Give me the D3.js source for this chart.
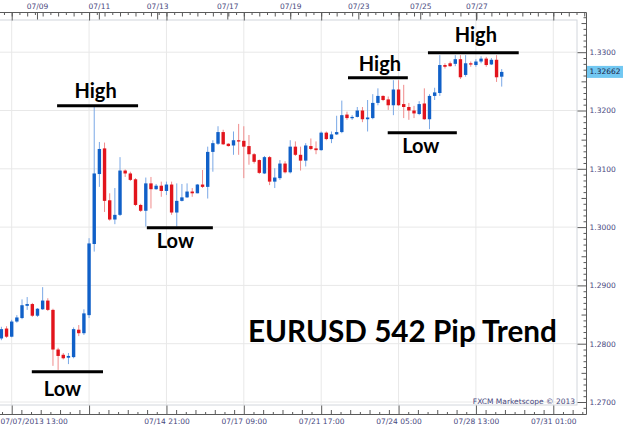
<!DOCTYPE html>
<html><head><meta charset="utf-8">
<script src="https://cdn.jsdelivr.net/npm/d3@7/dist/d3.min.js"></script>
<style>body{margin:0;background:#fff}svg{display:block}</style>
</head><body><svg id="c" width="624" height="428"></svg>
<script>
// ---- data ----
const candleIdx = d3.range(-2, 96);
const opens = [1.2809,1.2826,1.2812,1.2838,1.2844,1.2865,1.2868,1.2848,1.2859,1.2874,
 1.2858,1.2790,1.2781,1.2776,1.2777,1.2824,1.2818,1.2849,1.2971,1.3091,
 1.3135,1.3046,1.3013,1.3021,1.3097,1.3092,1.3082,1.3038,1.3028,1.3075,
 1.3065,1.3071,1.3062,1.3073,1.3025,1.3045,1.3051,1.3061,1.3058,1.3073,
 1.3069,1.3129,1.3143,1.3163,1.3143,1.3140,1.3149,1.3148,1.3139,1.3125,
 1.3115,1.3092,1.3120,1.3078,1.3084,1.3109,1.3094,1.3138,1.3124,1.3114,
 1.3139,1.3135,1.3132,1.3162,1.3151,1.3159,1.3163,1.3193,1.3187,1.3189,
 1.3200,1.3185,1.3187,1.3213,1.3225,1.3219,1.3209,1.3236,1.3211,1.3206,
 1.3200,1.3194,1.3212,1.3185,1.3225,1.3230,1.3278,1.3281,1.3280,1.3288,
 1.3261,1.3281,1.3278,1.3284,1.3289,1.3279,1.3287,1.3258];
const highs = [1.2829,1.2830,1.2841,1.2849,1.2876,1.2880,1.2870,1.2861,1.2897,1.2878,
 1.2860,1.2793,1.2784,1.2784,1.2828,1.2832,1.2859,1.2981,1.3207,1.3146,
 1.3145,1.3058,1.3067,1.3120,1.3099,1.3095,1.3084,1.3040,1.3085,1.3086,
 1.3074,1.3078,1.3078,1.3078,1.3075,1.3074,1.3075,1.3067,1.3074,1.3098,
 1.3138,1.3149,1.3173,1.3167,1.3144,1.3164,1.3177,1.3173,1.3158,1.3127,
 1.3116,1.3122,1.3122,1.3101,1.3115,1.3113,1.3149,1.3147,1.3138,1.3144,
 1.3152,1.3147,1.3164,1.3164,1.3164,1.3191,1.3217,1.3198,1.3192,1.3206,
 1.3206,1.3218,1.3228,1.3238,1.3226,1.3224,1.3252,1.3252,1.3244,1.3213,
 1.3208,1.3216,1.3238,1.3228,1.3239,1.3295,1.3281,1.3284,1.3295,1.3295,
 1.3295,1.3284,1.3288,1.3293,1.3292,1.3290,1.3295,1.3271];
const lows = [1.2806,1.2810,1.2811,1.2836,1.2842,1.2858,1.2846,1.2846,1.2858,1.2856,
 1.2762,1.2755,1.2773,1.2765,1.2775,1.2813,1.2815,1.2844,1.2958,1.3069,
 1.3026,1.3011,1.3005,1.3019,1.3086,1.3079,1.3036,1.3026,1.3001,1.3032,
 1.3064,1.3052,1.3055,1.3021,1.3001,1.3044,1.3050,1.3052,1.3058,1.3067,
 1.3049,1.3095,1.3141,1.3141,1.3138,1.3124,1.3124,1.3084,1.3107,1.3109,
 1.3091,1.3091,1.3072,1.3067,1.3081,1.3092,1.3092,1.3122,1.3097,1.3104,
 1.3132,1.3125,1.3131,1.3149,1.3144,1.3158,1.3161,1.3184,1.3184,1.3188,
 1.3180,1.3164,1.3185,1.3209,1.3216,1.3201,1.3192,1.3208,1.3187,1.3184,
 1.3187,1.3192,1.3184,1.3168,1.3218,1.3225,1.3272,1.3275,1.3276,1.3254,
 1.3258,1.3275,1.3275,1.3281,1.3275,1.3278,1.3249,1.3241];
const closes = [1.2825,1.2812,1.2838,1.2845,1.2866,1.2868,1.2848,1.2860,1.2874,1.2858,
 1.2790,1.2779,1.2775,1.2779,1.2825,1.2818,1.2852,1.2972,1.3092,1.3134,
 1.3045,1.3013,1.3021,1.3097,1.3092,1.3081,1.3038,1.3028,1.3075,1.3065,
 1.3071,1.3062,1.3073,1.3025,1.3045,1.3051,1.3061,1.3058,1.3073,1.3069,
 1.3129,1.3144,1.3163,1.3142,1.3139,1.3149,1.3147,1.3138,1.3125,1.3112,
 1.3093,1.3120,1.3078,1.3085,1.3109,1.3094,1.3138,1.3124,1.3114,1.3140,
 1.3134,1.3132,1.3162,1.3151,1.3159,1.3163,1.3192,1.3187,1.3189,1.3200,
 1.3185,1.3188,1.3213,1.3225,1.3218,1.3209,1.3236,1.3209,1.3206,1.3200,
 1.3195,1.3211,1.3185,1.3225,1.3231,1.3278,1.3275,1.3276,1.3288,1.3257,
 1.3281,1.3279,1.3284,1.3289,1.3278,1.3287,1.3257,1.32662];

const bottomTickIdx = [0, 15, 30, 45, 60, 75, 90, 105];
const bottomTickLabels = ["07/07/2013 13:00", "", "07/14 21:00", "07/17 09:00", "07/21 17:00", "07/24 05:00", "07/28 13:00", "07/31 01:00"];
const topTickIdx = [4.9, 16.9, 28.2, 41.8, 54, 67.2, 79.2, 90.1];
const topTickLabels = ["07/09", "07/11", "07/13", "07/17", "07/19", "07/23", "07/25", "07/27"];
const priceTicks = [1.27, 1.28, 1.29, 1.30, 1.31, 1.32, 1.33];
const priceTickLabels = ["1.2700", "1.2800", "1.2900", "1.3000", "1.3100", "1.3200", "1.3300"];
const lastPrice = 1.32662;
const lastPriceLabel = "1.32662";
const levelTexts = ["High", "Low", "Low", "High", "Low", "High"];
const levelFrom = [8.8, 3.9, 26.2, 65.2, 72.9, 80.7];
const levelTo = [24.5, 17.7, 39.0, 76.8, 86.3, 98.3];
const levelPrice = [1.3208, 1.2752, 1.2999, 1.3256, 1.3162, 1.3299];
const titleText = "EURUSD 542 Pip Trend";
const creditText = "FXCM Marketscope \u00A9 2013";

// ---- layout ----
const W = 624, H = 428;
const plot = {l: 0, t: 20, r: 577, b: 405};
const axisX = 586, axisTopY = 12, axisBotY = 414;
const labelOffsets = [{dx:-2, dy:-8}, {dx:-5, dy:24.5}, {dx:-4.5, dy:20}, {dx:2, dy:-7}, {dx:-1.5, dy:20}, {dx:2.5, dy:-11}];
const axisColor = "#5a5a5a", textColor = "#48487e", gridColor = "#e8e8e8";
const axisFont = "'DejaVu Sans', Verdana, sans-serif";
const boldFont = "Lato, 'Open Sans', sans-serif";

const svg = d3.select("#c");
svg.append("rect").attr("width", W).attr("height", H).attr("fill", "#fff");

const x = d3.scaleLinear().domain([0, 105]).range([11.7, 11.7 + 105 * 5.158]);
const y = d3.scaleLinear().domain([1.27, 1.33]).range([402, 52.2]);

const candles = candleIdx.map((i, k) => ({i, o: opens[k], h: highs[k], l: lows[k], c: closes[k]}));

svg.append("clipPath").attr("id", "clip").append("rect")
  .attr("x", plot.l).attr("y", plot.t).attr("width", plot.r - plot.l).attr("height", plot.b - plot.t);

// grid
const grid = svg.append("g").attr("clip-path", "url(#clip)");
grid.selectAll("line.v").data(bottomTickIdx).join("line")
  .attr("x1", d => x(d)).attr("x2", d => x(d)).attr("y1", plot.t).attr("y2", plot.b)
  .attr("stroke", gridColor).attr("stroke-width", 1);
grid.selectAll("line.h").data(priceTicks).join("line")
  .attr("x1", plot.l).attr("x2", plot.r).attr("y1", d => y(d)).attr("y2", d => y(d))
  .attr("stroke", gridColor).attr("stroke-width", 1);

// plot border
svg.append("rect").attr("x", plot.l - 1).attr("y", plot.t).attr("width", plot.r - plot.l + 1).attr("height", plot.b - plot.t)
  .attr("fill", "none").attr("stroke", "#d2d6dc").attr("stroke-width", 1);

// candles
const cg = svg.append("g").attr("clip-path", "url(#clip)");
const bw = 3.4;
cg.selectAll("line.wick").data(candles).join("line")
  .attr("x1", d => x(d.i)).attr("x2", d => x(d.i))
  .attr("y1", d => y(d.h)).attr("y2", d => y(d.l))
  .attr("stroke", d => d.c >= d.o ? "#7aa8e6" : "#f08c8c").attr("stroke-width", 1);
cg.selectAll("rect.body").data(candles).join("rect")
  .attr("x", d => x(d.i) - bw / 2).attr("width", bw)
  .attr("y", d => y(Math.max(d.o, d.c)))
  .attr("height", d => Math.max(1.3, Math.abs(y(d.o) - y(d.c))))
  .attr("fill", d => d.c >= d.o ? "#1060c8" : "#e2141c");

// axis frame
const frame = svg.append("g").attr("stroke", axisColor).attr("stroke-width", 1).attr("fill", "none");
frame.append("line").attr("x1", 0).attr("x2", axisX + 0.5).attr("y1", axisTopY + 0.5).attr("y2", axisTopY + 0.5);
frame.append("line").attr("x1", 0).attr("x2", axisX + 0.5).attr("y1", axisBotY + 0.5).attr("y2", axisBotY + 0.5);
frame.append("line").attr("x1", axisX + 0.5).attr("x2", axisX + 0.5).attr("y1", axisTopY + 0.5).attr("y2", axisBotY + 0.5);

function styleAxis(g) {
  g.select(".domain").remove();
  g.selectAll(".tick line").attr("stroke", axisColor);
  g.selectAll(".tick text").attr("fill", textColor).attr("font-family", axisFont).attr("font-size", "7.5px");
}
const inside = v => x(v) >= 0 && x(v) <= axisX;

// bottom axis
const botMinor = d3.range(-15, 120, 15 / 8).filter(v => inside(v) && Math.abs(v / 15 - Math.round(v / 15)) > 1e-6);
svg.append("g").attr("transform", `translate(0,${axisBotY + 0.5})`)
  .call(d3.axisBottom(x).tickValues(botMinor.filter((v, k) => k % 2 === 0)).tickSize(-2.5).tickFormat(""))
  .call(styleAxis);
svg.append("g").attr("transform", `translate(0,${axisBotY + 0.5})`)
  .call(d3.axisBottom(x).tickValues(botMinor.filter((v, k) => k % 2 === 1)).tickSize(-4.5).tickFormat(""))
  .call(styleAxis);
const bAx = svg.append("g").attr("transform", `translate(0,${axisBotY + 0.5})`)
  .call(d3.axisBottom(x).tickValues(bottomTickIdx).tickSize(-9).tickPadding(3)
    .tickFormat((d, k) => bottomTickLabels[k]))
  .call(styleAxis);
bAx.selectAll(".tick text").attr("dy", "0.8em");
bAx.selectAll(".tick").filter(d => d === 0).select("text").attr("text-anchor", "start").attr("x", -x(0));

// top axis
const topMinor = d3.range(-3, 115, 1.5).filter(inside);
svg.append("g").attr("transform", `translate(0,${axisTopY + 0.5})`)
  .call(d3.axisTop(x).tickValues(topMinor.filter((v, k) => k % 2 === 0)).tickSize(-2.5).tickFormat(""))
  .call(styleAxis);
svg.append("g").attr("transform", `translate(0,${axisTopY + 0.5})`)
  .call(d3.axisTop(x).tickValues(topMinor.filter((v, k) => k % 2 === 1)).tickSize(-4).tickFormat(""))
  .call(styleAxis);
svg.append("g").attr("transform", `translate(0,${axisTopY + 0.5})`)
  .call(d3.axisTop(x).tickValues(bottomTickIdx.filter(inside)).tickSize(-8).tickFormat(""))
  .call(styleAxis);
svg.append("g").attr("transform", `translate(0,${axisTopY + 0.5})`)
  .call(d3.axisTop(x).tickValues(topTickIdx).tickSize(-7).tickPadding(4)
    .tickFormat((d, k) => topTickLabels[k]))
  .call(styleAxis);

// right axis
const priceMinor = d3.range(1269, 1339).map(v => v / 1000).filter(v => y(v) > axisTopY + 2 && y(v) < axisBotY - 1);
svg.append("g").attr("transform", `translate(${axisX + 0.5},0)`)
  .call(d3.axisRight(y).tickValues(priceMinor.filter(v => Math.round(v * 1000) % 5 !== 0)).tickSize(-3).tickFormat(""))
  .call(styleAxis);
svg.append("g").attr("transform", `translate(${axisX + 0.5},0)`)
  .call(d3.axisRight(y).tickValues(priceMinor.filter(v => Math.round(v * 1000) % 10 === 5)).tickSize(-5).tickFormat(""))
  .call(styleAxis);
svg.append("g").attr("transform", `translate(${axisX + 0.5},0)`)
  .call(d3.axisRight(y).tickValues(priceTicks).tickSize(-9).tickPadding(3)
    .tickFormat((d, k) => priceTickLabels[k]))
  .call(styleAxis);

// last price tag
const lp = svg.append("g").attr("transform", `translate(${axisX + 1},${y(lastPrice)})`);
lp.append("rect").attr("x", 0).attr("y", -6).attr("width", 36).attr("height", 12).attr("fill", "#72c8f2");
lp.append("text").attr("x", 2.5).attr("y", 0).attr("dy", "0.32em").attr("fill", "#1c1c44")
  .attr("font-family", axisFont).attr("font-size", "7.5px").text(lastPriceLabel);

// credit
svg.append("text").attr("x", 575).attr("y", 403.5).attr("text-anchor", "end")
  .attr("fill", textColor).attr("font-family", axisFont).attr("font-size", "7.5px").text(creditText);

// high/low levels
const ann = svg.append("g");
levelTexts.forEach((t, k) => {
  const x0 = x(levelFrom[k]), x1 = x(levelTo[k]), yy = y(levelPrice[k]);
  ann.append("line").attr("x1", x0).attr("x2", x1).attr("y1", yy).attr("y2", yy)
    .attr("stroke", "#000").attr("stroke-width", 3);
  const off = labelOffsets[k];
  ann.append("text").attr("x", (x0 + x1) / 2 + off.dx).attr("y", yy + off.dy)
    .attr("text-anchor", "middle").attr("font-family", boldFont).attr("font-weight", 700)
    .attr("font-size", "20px").attr("fill", "#000").text(t);
});

// title
const tt = svg.append("text").attr("x", 248).attr("y", 342)
  .attr("font-family", boldFont).attr("font-weight", 700).attr("font-size", "30px").attr("fill", "#000").text(titleText);
const tw = tt.node().getComputedTextLength();
tt.attr("font-size", (30 * 309 / tw).toFixed(2) + "px");
</script>
</body></html>
